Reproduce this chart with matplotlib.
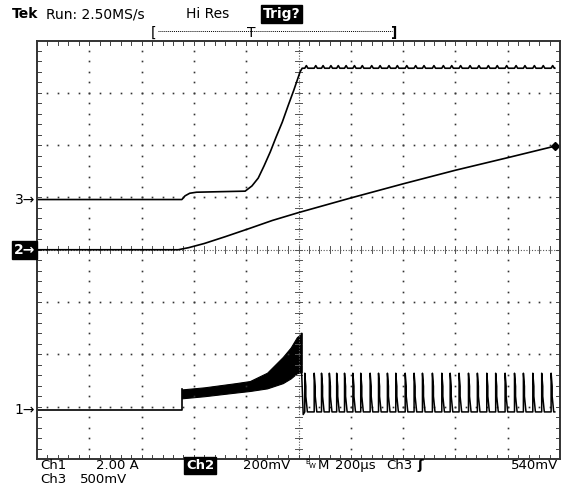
import numpy as np
import matplotlib
matplotlib.use('Agg')
import matplotlib.pyplot as plt
from matplotlib.lines import Line2D

W, H = 569, 492

# ---- traces, in screen divisions (x 0..10, y -4..4) ----
# Ch3: flat, small bump at turn-on, fast rise, clamped top with ripple
ch3_x = [0.0, 2.77, 2.83, 2.92, 3.05, 3.5, 3.98, 4.11, 4.23, 4.34, 4.46,
         4.57, 4.69, 4.80, 4.91, 5.03, 5.07]
ch3_y = [0.96, 0.96, 1.03, 1.08, 1.10, 1.11, 1.12, 1.22, 1.37, 1.60, 1.87,
         2.15, 2.44, 2.75, 3.05, 3.40, 3.47]
ch3_top = 3.47
ch3_end = 9.9

# Ch2: slow ramp
ch2_x = [0.0, 2.7, 2.9, 3.2, 3.6, 4.07, 4.5, 5.0, 6.0, 7.0, 8.0, 9.0, 9.9]
ch2_y = [0.0, 0.0, 0.04, 0.12, 0.25, 0.41, 0.56, 0.71, 0.99, 1.26, 1.52, 1.76, 1.98]

# Ch1: baseline, ringing band (envelope), then pulse train
ch1_base = -3.07
ch1_step = 2.77
band_x = [2.77, 3.2, 3.8, 4.07, 4.4, 4.70, 4.85, 4.97, 5.06]
band_hi = [-2.67, -2.63, -2.55, -2.51, -2.35, -2.05, -1.87, -1.67, -1.60]
band_lo = [-2.84, -2.80, -2.73, -2.70, -2.65, -2.55, -2.46, -2.36, -2.34]
ch1_low = -3.10
pulse_t = [5.12, 5.30, 5.44, 5.59, 5.73, 5.88, 6.04, 6.19, 6.37, 6.53,
           6.70, 6.86, 7.04, 7.21, 7.37, 7.56, 7.74, 7.90, 8.07, 8.25,
           8.42, 8.60, 8.77, 8.95, 9.13, 9.30, 9.48, 9.65, 9.83]
pulse_top = -2.36

fig = plt.figure(figsize=(W / 100, H / 100), dpi=100)
fig.patch.set_facecolor('white')
ax = fig.add_axes([37 / W, 1 - 459 / H, 523 / W, 418.5 / H])
ax.set_xlim(0, 10)
ax.set_ylim(-4, 4)
ax.set_xticks([])
ax.set_yticks([])
for s in ax.spines.values():
    s.set_color('#333333')
    s.set_linewidth(1.4)

# graticule: dotted major lines
fine = np.arange(0.2, 8.0, 0.2) - 4
fine_x = np.arange(0.2, 10.0, 0.2)
for gx in [1, 2, 3, 4, 6, 7, 8, 9]:
    ax.plot([gx] * len(fine), fine, ls='none', marker='s', ms=1.2, mew=0, color='#333333')
for gy in [-3, -2, -1, 1, 2, 3]:
    ax.plot(fine_x, [gy] * len(fine_x), ls='none', marker='s', ms=1.2, mew=0, color='#333333')

# centre crosshair with ticks
ax.plot([5, 5], [-4, 4], ls=(0, (1, 1.5)), lw=0.8, color='#555555')
ax.plot([0, 10], [0, 0], ls=(0, (1, 1.5)), lw=0.8, color='#555555')
for v in fine:
    ax.plot([4.93, 5.07], [v, v], lw=0.7, color='#555555')
for v in fine_x:
    ax.plot([v, v], [-0.07, 0.07], lw=0.7, color='#555555')

# edge ticks
for v in fine_x:
    ax.plot([v, v], [4, 3.92], lw=0.7, color='#444444')
    ax.plot([v, v], [-4, -3.92], lw=0.7, color='#444444')
for v in fine:
    ax.plot([0, 0.08], [v, v], lw=0.7, color='#444444')
    ax.plot([10, 9.92], [v, v], lw=0.7, color='#444444')

# Ch3
c3x = list(ch3_x)
c3y = list(ch3_y)
for t in pulse_t:
    c3x += [t, t + 0.03, t + 0.06]
    c3y += [ch3_top, ch3_top + 0.05, ch3_top]
c3x.append(ch3_end)
c3y.append(ch3_top)
ax.plot(c3x, c3y, color='black', lw=1.2)

# Ch2
ax.plot(ch2_x, ch2_y, color='black', lw=1.2)
ax.plot([ch2_x[-1]], [ch2_y[-1]], marker='D', ms=4, color='black')

# Ch1
ax.plot([0, ch1_step, ch1_step], [ch1_base, ch1_base, band_hi[0]], color='black', lw=1.2)
ax.fill_between(band_x, band_lo, band_hi, color='black', lw=0.8)
c1x = [band_x[-1], band_x[-1], 5.09]
c1y = [band_hi[-1], band_lo[-1], ch1_low - 0.05]
for t in pulse_t:
    c1x += [t, t, t + 0.02, t + 0.02, t + 0.04, t + 0.05]
    c1y += [ch1_low, pulse_top, pulse_top - 0.25, ch1_low + 0.3, ch1_low + 0.1, ch1_low]
c1x.append(9.9)
c1y.append(ch1_low)
ax.plot(c1x, c1y, color='black', lw=1.1)


def ftext(x, y, s, **kw):
    fig.text(x / W, 1 - y / H, s, va='baseline', **kw)


fs = 10
fb = 9.5
box = dict(boxstyle='square,pad=0.12', fc='black', ec='black')
ftext(12, 18, 'Tek', fontsize=fs, fontweight='bold')
ftext(46, 18, 'Run: 2.50MS/s', fontsize=fs)
ftext(186, 18, 'Hi Res', fontsize=fs)
ftext(263, 18, 'Trig?', fontsize=fs, fontweight='bold', color='white', bbox=box)

# trigger position bracket
ftext(151, 37, '[', fontsize=fs)
ftext(391, 37, ']', fontsize=fs, fontweight='bold')
ftext(247, 37, 'T', fontsize=fs)
fig.add_artist(Line2D([158 / W, 392 / W], [1 - 31 / H, 1 - 31 / H], transform=fig.transFigure,
                      ls=(0, (1, 1)), lw=0.7, color='black'))

# channel markers
ftext(35, 204, '3→', fontsize=fs, ha='right')
ftext(35, 254, '2→', fontsize=fs, ha='right', fontweight='bold', color='white', bbox=box)
ftext(35, 414, '1→', fontsize=fs, ha='right')

# readouts
ftext(40, 469, 'Ch1', fontsize=fb)
ftext(96, 469, '2.00 A', fontsize=fb)
ftext(186, 469, 'Ch2', fontsize=fb, fontweight='bold', color='white', bbox=box)
ftext(243, 469, '200mV', fontsize=fb)
ftext(305, 464, 'B', fontsize=5)
ftext(309, 468, 'W', fontsize=5)
ftext(318, 469, 'M', fontsize=fb)
ftext(335, 469, '200µs', fontsize=fb)
ftext(386, 469, 'Ch3', fontsize=fb)
ftext(417, 469, 'ʃ', fontsize=fb, fontweight='bold')
ftext(511, 469, '540mV', fontsize=fb)
ftext(40, 483, 'Ch3', fontsize=fb)
ftext(80, 483, '500mV', fontsize=fb)

fig.savefig('out.png', dpi=100)
